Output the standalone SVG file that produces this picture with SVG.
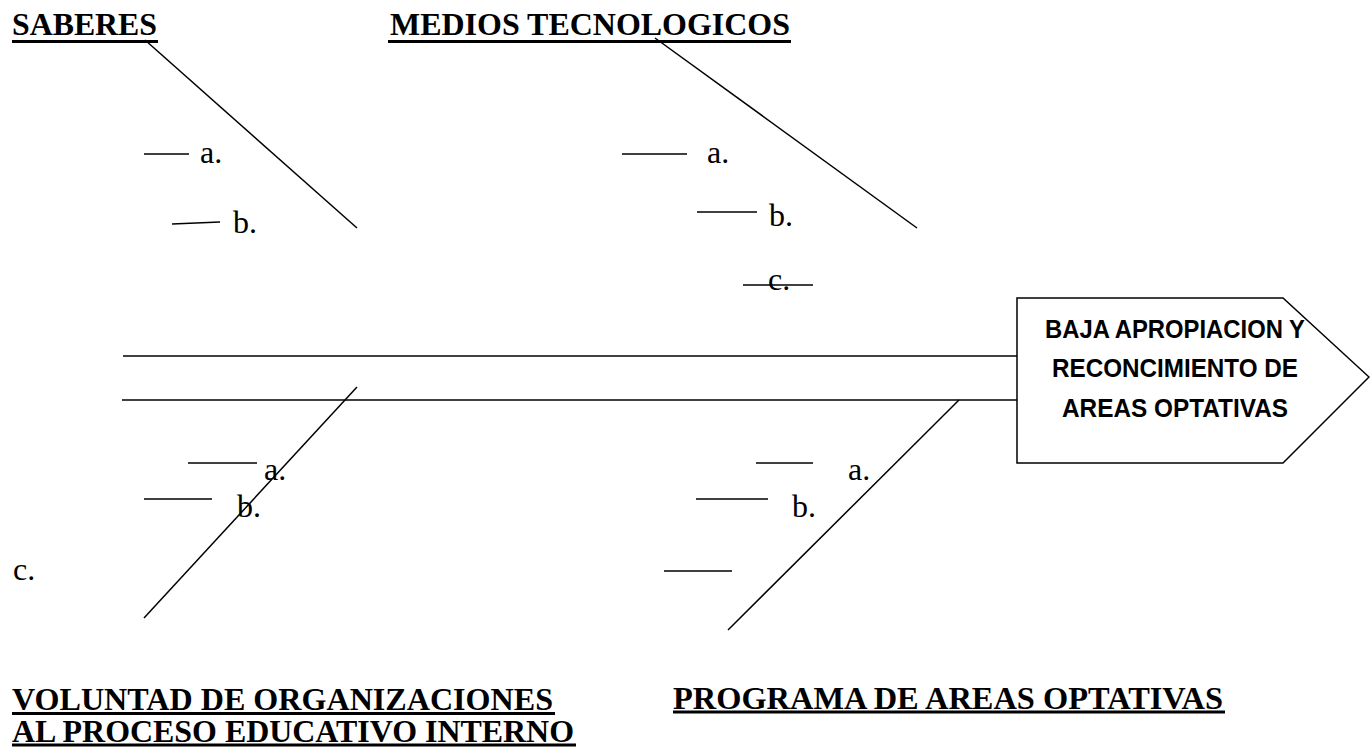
<svg xmlns="http://www.w3.org/2000/svg" width="1370" height="751" viewBox="0 0 1370 751">
<style>
.ln{stroke:#000;stroke-width:1.5;fill:none}
.ul{stroke:#000;stroke-width:3}
.hd{font-family:"Liberation Serif","Times New Roman",serif;font-weight:bold;font-size:32px;fill:#000}
.it{font-family:"Liberation Serif","Times New Roman",serif;font-size:32px;fill:#000}
.bx{font-family:"Liberation Sans",Arial,sans-serif;font-weight:bold;font-size:25px;fill:#000}
</style>
<rect width="1370" height="751" fill="#fff"/>
<g id="connectors">
<line class="ln" x1="123" y1="356" x2="1017" y2="356"/>
<line class="ln" x1="122" y1="400" x2="1017" y2="400"/>
<line class="ln" x1="145" y1="40" x2="357" y2="228"/>
<line class="ln" x1="655" y1="38" x2="917" y2="228"/>
<line class="ln" x1="357" y1="387" x2="144" y2="618"/>
<line class="ln" x1="959" y1="400" x2="728" y2="630"/>
</g>
<g id="saberes">
<text class="hd" x="12" y="35" textLength="145" lengthAdjust="spacingAndGlyphs">SABERES</text>
<line class="ul" x1="12" y1="41.5" x2="158" y2="41.5"/>
<line class="ln" x1="144" y1="154" x2="189" y2="154"/>
<text class="it" x="200" y="163">a.</text>
<line class="ln" x1="172" y1="224" x2="220" y2="222"/>
<text class="it" x="233" y="233">b.</text>
</g>
<g id="medios">
<text class="hd" x="390" y="35" textLength="400" lengthAdjust="spacingAndGlyphs">MEDIOS TECNOLOGICOS</text>
<line class="ul" x1="388" y1="41.5" x2="791" y2="41.5"/>
<line class="ln" x1="622" y1="154" x2="687" y2="154"/>
<text class="it" x="707" y="163">a.</text>
<line class="ln" x1="697" y1="212" x2="757" y2="212"/>
<text class="it" x="769" y="226">b.</text>
<text class="it" x="768" y="290">c.</text>
<line class="ln" x1="743" y1="285" x2="813" y2="285"/>
</g>
<g id="voluntad">
<text class="hd" x="12" y="710" textLength="541" lengthAdjust="spacingAndGlyphs">VOLUNTAD DE ORGANIZACIONES</text>
<line class="ul" x1="12" y1="713.5" x2="555" y2="713.5"/>
<text class="hd" x="12" y="742" textLength="562" lengthAdjust="spacingAndGlyphs">AL PROCESO EDUCATIVO INTERNO</text>
<line class="ul" x1="12" y1="745" x2="576" y2="745"/>
<line class="ln" x1="188" y1="463" x2="257" y2="463"/>
<text class="it" x="264" y="480">a.</text>
<line class="ln" x1="144" y1="499" x2="212" y2="499"/>
<text class="it" x="237" y="517">b.</text>
<text class="it" x="13" y="580">c.</text>
</g>
<g id="programa">
<text class="hd" x="673" y="709" textLength="550" lengthAdjust="spacingAndGlyphs">PROGRAMA DE AREAS OPTATIVAS</text>
<line class="ul" x1="673" y1="712" x2="1225" y2="712"/>
<line class="ln" x1="756" y1="463" x2="813" y2="463"/>
<text class="it" x="848" y="480">a.</text>
<line class="ln" x1="696" y1="499" x2="768" y2="499"/>
<text class="it" x="792" y="517">b.</text>
<line class="ln" x1="664" y1="571" x2="732" y2="571"/>
</g>
<g id="efecto">
<polygon class="ln" points="1017,298 1283,298 1369,377 1283,463 1017,463" fill="#fff"/>
<text class="bx" x="1045" y="338" textLength="260" lengthAdjust="spacingAndGlyphs">BAJA APROPIACION Y</text>
<text class="bx" x="1052" y="377" textLength="246" lengthAdjust="spacingAndGlyphs">RECONCIMIENTO DE</text>
<text class="bx" x="1062" y="417" textLength="226" lengthAdjust="spacingAndGlyphs">AREAS OPTATIVAS</text>
</g>
</svg>
